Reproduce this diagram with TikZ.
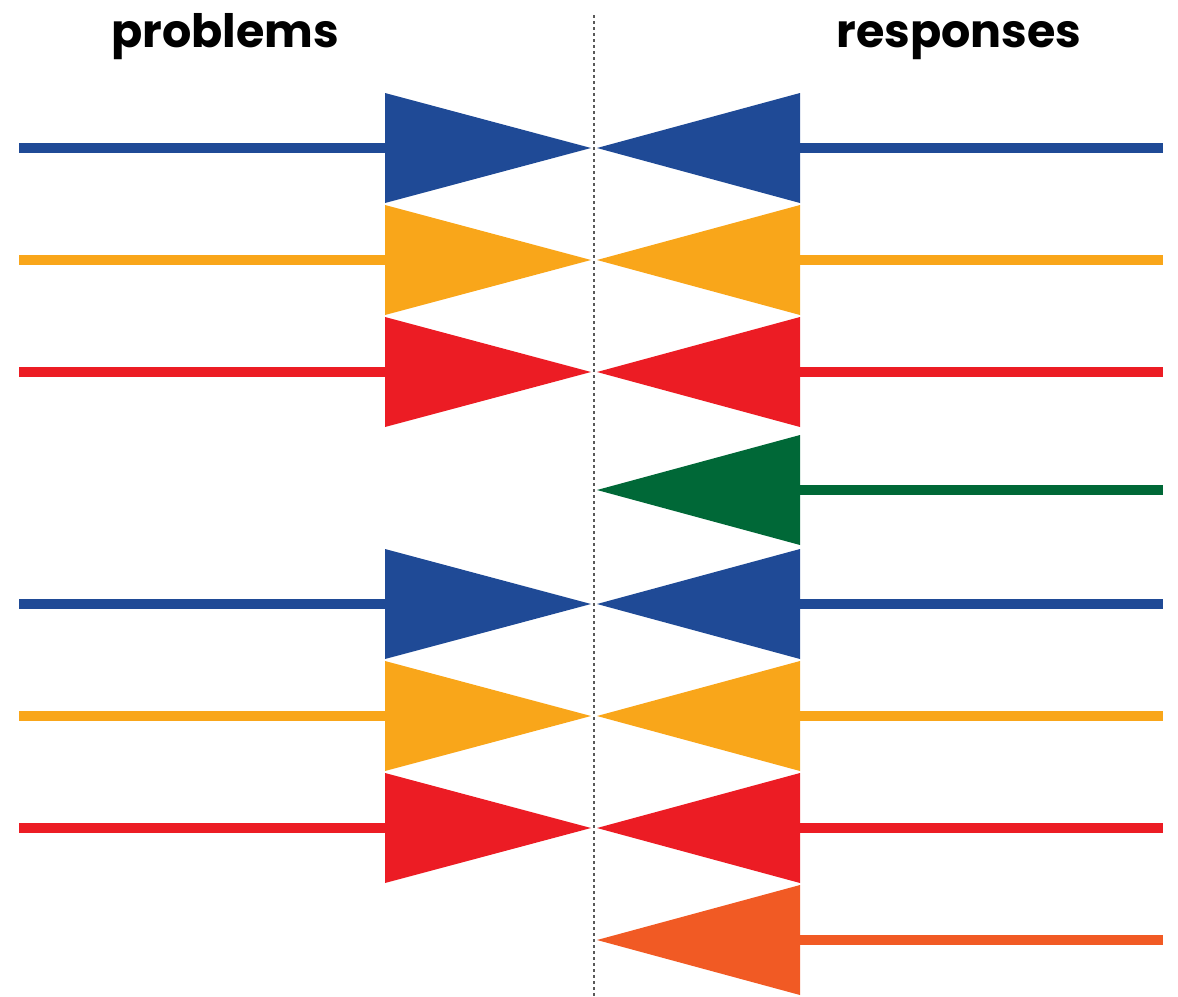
\documentclass[tikz,border=0pt]{standalone}
\usepackage{fontspec}
\setmainfont{Poppins}
\definecolor{pblue}{HTML}{1F4A96}
\definecolor{pyellow}{HTML}{F9A61A}
\definecolor{pred}{HTML}{EC1C24}
\definecolor{pgreen}{HTML}{006837}
\definecolor{porange}{HTML}{F15A24}
\tikzset{
  head/.style={font=\bfseries\fontsize{23}{23}\selectfont,anchor=base,inner sep=0pt},
  shaft/.style={line width=5pt}
}
\begin{document}
\begin{tikzpicture}[x=0.5pt,y=-0.5pt]
\useasboundingbox (0,0) rectangle (1178,996);
\draw[dashed,dash pattern=on 1.5pt off 1.5pt,line width=0.6pt,black!65] (594,15)--(594,996);
\node[head] (prob) at (225,47) {problems};
\node[head] (resp) at (959,47) {responses};
% problems side
\foreach \y/\c in {148/pblue,260/pyellow,372/pred,604/pblue,716/pyellow,828/pred}
{
\draw[shaft,\c] (19,\y)--(386,\y);
\fill[\c] (385,\y-55)--(591,\y)--(385,\y+55)--cycle;
}
% responses side
\foreach \y/\c in {148/pblue,260/pyellow,372/pred,490/pgreen,604/pblue,716/pyellow,828/pred,940/porange}
{
\draw[shaft,\c] (799,\y)--(1163,\y);
\fill[\c] (800,\y-55)--(597,\y)--(800,\y+55)--cycle;
}
\end{tikzpicture}
\end{document}
